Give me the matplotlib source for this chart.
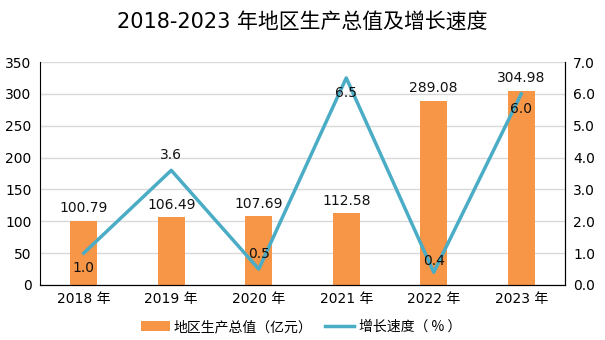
import matplotlib
matplotlib.use("Agg")
import matplotlib.pyplot as plt
import numpy as np

plt.rcParams['font.family'] = ['DejaVu Sans', 'Noto Sans CJK SC']

years = ["2018 年", "2019 年", "2020 年", "2021 年", "2022 年", "2023 年"]
gdp = [100.79, 106.49, 107.69, 112.58, 289.08, 304.98]
growth = [1.0, 3.6, 0.5, 6.5, 0.4, 6.0]
growth_label_offsets = [-11, 11, 11, -11, 8, -11]

bar_color = "#F79646"
line_color = "#4BACC6"

fig = plt.figure(figsize=(6.05, 3.4), dpi=100)
ax = fig.add_axes([40/605, 1 - 285/340, 525/605, 223/340])
ax2 = ax.twinx()

x = np.arange(len(years))
ax.bar(x, gdp, width=0.31, color=bar_color, zorder=2, label="地区生产总值（亿元）")
ax.set_ylim(0, 350)
ax.set_yticks(np.arange(0, 351, 50))
ax.set_xlim(-0.5, len(years) - 0.5)
ax.set_xticks(x)
ax.set_xticklabels(years, fontsize=10)
ax.grid(axis='y', color='#d9d9d9', linewidth=1, zorder=0)
ax.set_axisbelow(True)
ax.tick_params(axis='y', length=0, labelsize=10, pad=6)
ax.tick_params(axis='x', length=0, labelsize=10, pad=5)
for s in ['top']:
    ax.spines[s].set_visible(False)
    ax2.spines[s].set_visible(False)
for s in ['left', 'bottom', 'right']:
    ax.spines[s].set_color('black')
ax2.spines['right'].set_color('black')
ax2.spines['left'].set_visible(False)

for xi, v in zip(x, gdp):
    ax.annotate(f"{v:.2f}", (xi, v), xytext=(0, 4), textcoords='offset points',
                ha='center', va='bottom', fontsize=10, color='#111111')

ax2.plot(x, growth, color=line_color, linewidth=2.5, zorder=3, label="增长速度（ % ）")
ax2.set_ylim(0, 7)
ax2.set_yticks(np.arange(0, 7.01, 1))
ax2.set_yticklabels([f"{t:.1f}" for t in np.arange(0, 7.01, 1)])
ax2.tick_params(axis='y', length=0, labelsize=10, pad=6)
for xi, v, off in zip(x, growth, growth_label_offsets):
    ax2.annotate(f"{v:.1f}", (xi, v), xytext=(0, off), textcoords='offset points',
                 ha='center', va='center', fontsize=10, color='#111111', zorder=4)

fig.suptitle("2018-2023 年地区生产总值及增长速度", fontsize=15, y=0.965,
             family=['DejaVu Sans', 'Noto Sans CJK SC'])

h1, l1 = ax.get_legend_handles_labels()
h2, l2 = ax2.get_legend_handles_labels()
fig.legend(h1 + h2, l1 + l2, loc='center', bbox_to_anchor=(0.497, 1 - 327/340),
           ncol=2, frameon=False, handlelength=2.1, columnspacing=0.9,
           handleheight=0.65, handletextpad=0.3,
           prop={'family': ['Noto Sans CJK SC', 'DejaVu Sans'], 'size': 10})

fig.savefig("out.png", dpi=100)
